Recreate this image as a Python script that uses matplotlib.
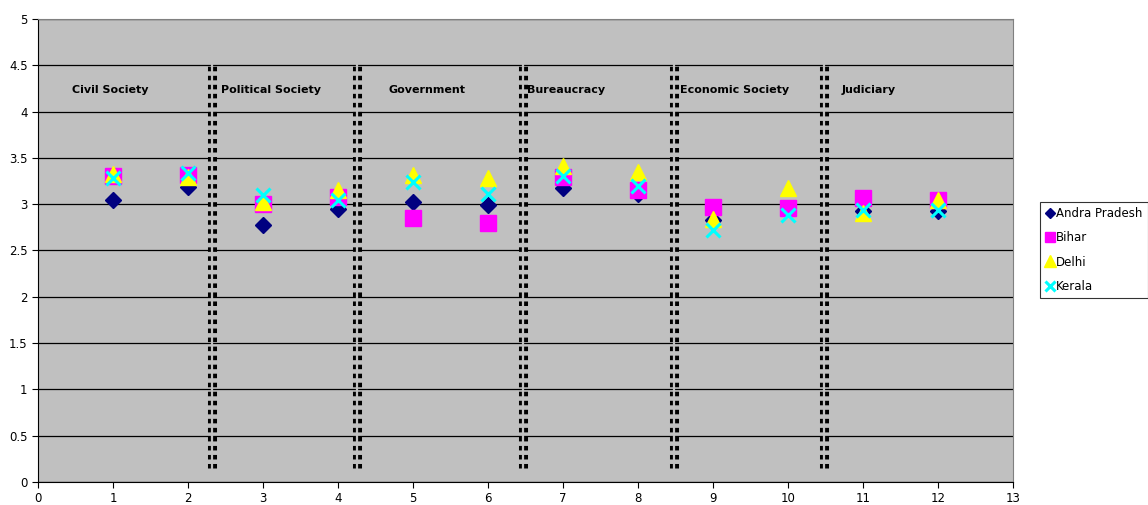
import matplotlib
matplotlib.use("Agg")
import matplotlib.pyplot as plt

x = [1, 2, 3, 4, 5, 6, 7, 8, 9, 10, 11, 12]
andra_pradesh = [3.05, 3.19, 2.78, 2.95, 3.02, 2.99, 3.17, 3.11, 2.83, 2.95, 2.93, 2.93]
bihar = [3.30, 3.31, 3.00, 3.08, 2.85, 2.80, 3.29, 3.15, 2.97, 2.96, 3.07, 3.05]
delhi = [3.33, 3.29, 3.02, 3.15, 3.32, 3.28, 3.41, 3.35, 2.84, 3.17, 2.91, 3.04]
kerala = [3.28, 3.34, 3.10, 3.05, 3.24, 3.11, 3.30, 3.20, 2.72, 2.88, 2.94, 2.94]

categories = ["Civil Society", "Political Society", "Government", "Bureaucracy",
              "Economic Society", "Judiciary"]
category_x = [0.45, 2.44, 4.67, 6.52, 8.56, 10.72]
divider_x = [2.32, 4.25, 6.47, 8.48, 10.48]

fig = plt.figure(figsize=(11.48, 5.05), dpi=100)
ax = fig.add_axes([38/1148, 1 - 482/505, (1013-38)/1148, (482-19)/505])
ax.set_facecolor("#C0C0C0")
ax.set_xlim(0, 13)
ax.set_ylim(0, 5)
ax.set_xticks(range(0, 14))
ax.set_yticks([0, 0.5, 1, 1.5, 2, 2.5, 3, 3.5, 4, 4.5, 5])
ax.set_yticklabels(["0", "0.5", "1", "1.5", "2", "2.5", "3", "3.5", "4", "4.5", "5"])
ax.tick_params(labelsize=8.5, length=4, direction="out", color="#000000")
ax.set_axisbelow(True)
ax.yaxis.grid(True, color="#000000", linewidth=0.9)
for s in ["top", "right"]:
    ax.spines[s].set_color("#808080")
for s in ["left", "bottom"]:
    ax.spines[s].set_color("#000000")

for dx in divider_x:
    ax.plot([dx, dx], [0.15, 4.5], color="black", linewidth=6.5,
            linestyle=(0, (0.5, 0.5)), solid_capstyle="butt", dash_capstyle="butt", zorder=3)
    ax.plot([dx, dx], [0.10, 4.55], color="#C0C0C0", linewidth=1.6, zorder=3.1)

for cx, name in zip(category_x, categories):
    ax.text(cx, 4.23, name, fontsize=8, fontweight="bold", ha="left", va="center", zorder=4)

ax.plot(x, andra_pradesh, linestyle="none", marker="D", markersize=8,
        color="#000080", label="Andra Pradesh", zorder=5)
ax.plot(x, bihar, linestyle="none", marker="s", markersize=11,
        color="#FF00FF", label="Bihar", zorder=6)
ax.plot(x, delhi, linestyle="none", marker="^", markersize=12,
        color="#FFFF00", label="Delhi", zorder=7)
ax.plot(x, kerala, linestyle="none", marker="x", markersize=10, markeredgewidth=2.2,
        color="#00FFFF", label="Kerala", zorder=8)

leg = fig.legend(loc="center left", bbox_to_anchor=(1040/1148, 1 - 250/505),
                 fontsize=8.5, frameon=True, fancybox=False, edgecolor="black",
                 handlelength=0.8, handletextpad=0.1, borderpad=0.45, labelspacing=0.95,
                 markerscale=0.7, borderaxespad=0)
leg.get_frame().set_linewidth(0.8)

fig.savefig("out.png", dpi=100, facecolor="white")
